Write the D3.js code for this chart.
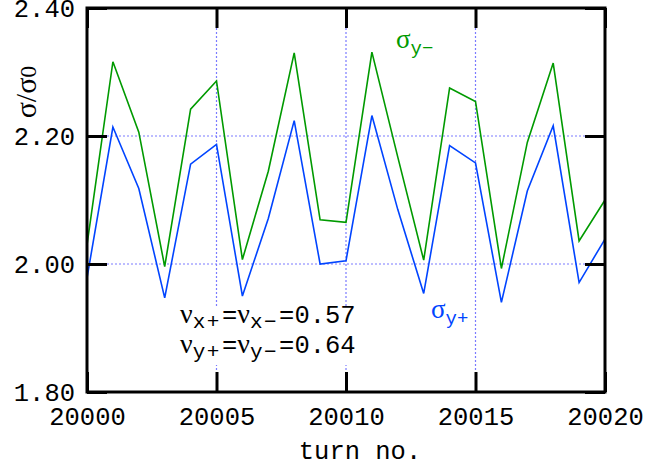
<!DOCTYPE html>
<html>
<head>
<meta charset="utf-8">
<script src="https://cdn.jsdelivr.net/npm/d3@7"></script>
<style>
  body { margin: 0; background: #fff; }
</style>
</head>
<body>
<div id="chart"></div>
<script>
const turns = d3.range(20000, 20021);
const sigmaYMinus = [2.030, 2.316, 2.206, 1.996, 2.242, 2.286, 2.007, 2.145, 2.330, 2.069, 2.065,
                     2.331, 2.167, 2.006, 2.275, 2.254, 1.993, 2.190, 2.314, 2.036, 2.100];
const sigmaYPlus = [1.978, 2.214, 2.118, 1.947, 2.156, 2.187, 1.950, 2.071, 2.224, 2.000, 2.005,
                    2.232, 2.085, 1.954, 2.185, 2.158, 1.940, 2.114, 2.216, 1.971, 2.039];
const xTicks = [20000, 20005, 20010, 20015, 20020];
const yTicks = [1.80, 2.00, 2.20, 2.40];
const xGrid = [20005, 20010, 20015];
const yGrid = [2.00, 2.20];

const width = 661, height = 467;
const margin = { top: 8, right: 56, bottom: 75, left: 87 };
const mono = "'Liberation Mono', 'DejaVu Sans Mono', monospace";
const serif = "'Liberation Serif', 'DejaVu Serif', serif";

const svg = d3.select("#chart").append("svg")
    .attr("width", width)
    .attr("height", height);

const x = d3.scaleLinear()
    .domain([20000, 20020])
    .range([margin.left, width - margin.right]);

const y = d3.scaleLinear()
    .domain([1.80, 2.40])
    .range([height - margin.bottom, margin.top]);

const tick = 20;

// grid
const grid = svg.append("g")
    .attr("stroke", "#7b7bff")
    .attr("stroke-width", 1.2)
    .attr("stroke-dasharray", "2,2");
grid.selectAll(".gx").data(xGrid).enter().append("line")
    .attr("x1", d => x(d)).attr("x2", d => x(d))
    .attr("y1", y(2.40) + tick).attr("y2", y(1.80) - tick);
grid.selectAll(".gy").data(yGrid).enter().append("line")
    .attr("y1", d => y(d)).attr("y2", d => y(d))
    .attr("x1", x(20000) + tick).attr("x2", x(20020) - tick);

// white box behind the tune annotation
svg.append("rect")
    .attr("x", 172).attr("y", 307)
    .attr("width", 195).attr("height", 58)
    .attr("fill", "#fff");

// lines
const line = d3.line()
    .x((d, i) => x(turns[i]))
    .y(d => y(d));

svg.append("path")
    .datum(sigmaYMinus)
    .attr("fill", "none")
    .attr("stroke", "#009a00")
    .attr("stroke-width", 1.6)
    .attr("d", line);

svg.append("path")
    .datum(sigmaYPlus)
    .attr("fill", "none")
    .attr("stroke", "#0044ff")
    .attr("stroke-width", 1.6)
    .attr("d", line);

// axes
function styleAxis(g) {
    g.select(".domain").remove();
    g.selectAll(".tick line").attr("stroke", "#000").attr("stroke-width", 3);
    g.selectAll(".tick text")
        .attr("fill", "#000")
        .style("font-family", mono)
        .style("font-size", "25.5px");
}

svg.append("g")
    .attr("transform", `translate(0,${y(1.80)})`)
    .call(d3.axisBottom(x).tickValues(xTicks).tickFormat(d3.format("d"))
        .tickSizeInner(-tick).tickSizeOuter(0).tickPadding(15))
    .call(styleAxis);

svg.append("g")
    .attr("transform", `translate(0,${y(2.40)})`)
    .call(d3.axisTop(x).tickValues(xTicks).tickFormat("")
        .tickSizeInner(-tick).tickSizeOuter(0))
    .call(styleAxis);

svg.append("g")
    .attr("transform", `translate(${x(20000)},0)`)
    .call(d3.axisLeft(y).tickValues(yTicks).tickFormat(d3.format(".2f"))
        .tickSizeInner(-tick).tickSizeOuter(0).tickPadding(12))
    .call(styleAxis);

svg.append("g")
    .attr("transform", `translate(${x(20020)},0)`)
    .call(d3.axisRight(y).tickValues(yTicks).tickFormat("")
        .tickSizeInner(-tick).tickSizeOuter(0))
    .call(styleAxis);

// frame
svg.append("rect")
    .attr("x", x(20000)).attr("y", y(2.40))
    .attr("width", x(20020) - x(20000))
    .attr("height", y(1.80) - y(2.40))
    .attr("fill", "none")
    .attr("stroke", "#000")
    .attr("stroke-width", 3);

// axis titles
svg.append("text")
    .attr("x", 360).attr("y", 459)
    .attr("text-anchor", "middle")
    .style("font-family", mono)
    .style("font-size", "25.5px")
    .text("turn no.");

const yTitle = svg.append("text")
    .attr("transform", "translate(36,92) rotate(-90)")
    .attr("text-anchor", "middle")
    .style("font-family", serif)
    .style("font-size", "30px");
yTitle.append("tspan").text("σ/σ");
yTitle.append("tspan").style("font-size", "24px").text("0");

// series labels
function sigmaLabel(xp, yp, sub, color) {
    const t = svg.append("text")
        .attr("x", xp).attr("y", yp)
        .attr("fill", color);
    t.append("tspan").style("font-family", serif).style("font-size", "27px").text("σ");
    t.append("tspan").attr("dy", 6).style("font-family", mono).style("font-size", "19px").text(sub);
}
sigmaLabel(396, 48, "y−", "#009a00");
sigmaLabel(431, 318, "y+", "#0044ff");

// tune annotation
function tuneLine(xp, yp, p, m, value) {
    const t = svg.append("text").attr("x", xp).attr("y", yp).attr("fill", "#000");
    t.append("tspan").style("font-family", serif).style("font-size", "28px").text("ν");
    t.append("tspan").attr("dy", 5).style("font-family", mono).style("font-size", "21px")
        .style("letter-spacing", "1.5px").text(p);
    t.append("tspan").attr("dy", -5).attr("dx", 1).style("font-family", mono).style("font-size", "25.5px").text("=");
    t.append("tspan").style("font-family", serif).style("font-size", "28px").text("ν");
    t.append("tspan").attr("dy", 5).style("font-family", mono).style("font-size", "21px")
        .style("letter-spacing", "1.5px").text(m);
    t.append("tspan").attr("dy", -5).attr("dx", 1).style("font-family", mono).style("font-size", "25.5px").text("=" + value);
}
tuneLine(180, 323, "x+", "x−", "0.57");
tuneLine(180, 353, "y+", "y−", "0.64");
</script>
</body>
</html>
